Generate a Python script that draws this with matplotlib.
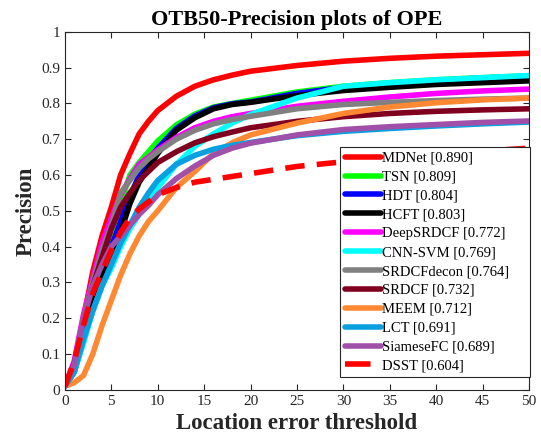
import matplotlib
matplotlib.use("Agg")
import matplotlib.pyplot as plt
from matplotlib.lines import Line2D

plt.rcParams['font.family'] = ['Liberation Serif', 'DejaVu Serif']

thresholds = [0, 1, 2, 3, 4, 5, 6, 7, 8, 9, 10, 12, 14, 16, 18, 20, 25, 30, 35, 40, 45, 50]

trackers = ['MDNet', 'TSN', 'HDT', 'HCFT', 'DeepSRDCF', 'CNN-SVM',
            'SRDCFdecon', 'SRDCF', 'MEEM', 'LCT', 'SiameseFC', 'DSST']
scores = [0.890, 0.809, 0.804, 0.803, 0.772, 0.769, 0.764, 0.732, 0.712, 0.691, 0.689, 0.604]

mdnet = [0.01, 0.07, 0.20, 0.33, 0.43, 0.51, 0.60, 0.66, 0.715, 0.75, 0.78, 0.82, 0.848, 0.866, 0.879, 0.89, 0.906, 0.918, 0.926, 0.932, 0.936, 0.94]
tsn = [0.01, 0.06, 0.17, 0.27, 0.35, 0.43, 0.52, 0.60, 0.635, 0.665, 0.695, 0.74, 0.77, 0.79, 0.80, 0.809, 0.832, 0.848, 0.858, 0.866, 0.872, 0.877]
hdt = [0.01, 0.05, 0.15, 0.25, 0.33, 0.40, 0.47, 0.54, 0.60, 0.64, 0.675, 0.73, 0.765, 0.788, 0.799, 0.804, 0.828, 0.845, 0.856, 0.864, 0.871, 0.876]
hcft = [0.01, 0.05, 0.14, 0.24, 0.32, 0.38, 0.44, 0.52, 0.58, 0.62, 0.66, 0.725, 0.76, 0.785, 0.797, 0.803, 0.822, 0.836, 0.845, 0.853, 0.858, 0.863]
deepsrdcf = [0.01, 0.08, 0.21, 0.31, 0.41, 0.48, 0.545, 0.59, 0.63, 0.65, 0.67, 0.705, 0.732, 0.75, 0.763, 0.772, 0.792, 0.806, 0.818, 0.828, 0.835, 0.84]
cnnsvm = [0.01, 0.05, 0.13, 0.22, 0.29, 0.34, 0.40, 0.45, 0.49, 0.53, 0.565, 0.63, 0.68, 0.715, 0.745, 0.769, 0.815, 0.848, 0.858, 0.866, 0.872, 0.878]
srdcfdecon = [0.01, 0.07, 0.20, 0.30, 0.39, 0.46, 0.55, 0.585, 0.62, 0.645, 0.665, 0.70, 0.725, 0.743, 0.755, 0.764, 0.785, 0.797, 0.803, 0.808, 0.812, 0.815]
srdcf = [0.01, 0.07, 0.19, 0.29, 0.37, 0.45, 0.51, 0.55, 0.585, 0.61, 0.635, 0.665, 0.69, 0.707, 0.72, 0.732, 0.75, 0.763, 0.772, 0.778, 0.782, 0.785]
meem = [0.01, 0.02, 0.04, 0.10, 0.18, 0.25, 0.32, 0.38, 0.43, 0.47, 0.50, 0.565, 0.61, 0.66, 0.69, 0.712, 0.745, 0.772, 0.79, 0.802, 0.81, 0.815]
lct = [0.01, 0.05, 0.14, 0.22, 0.29, 0.35, 0.41, 0.46, 0.51, 0.55, 0.585, 0.63, 0.655, 0.672, 0.683, 0.691, 0.71, 0.722, 0.73, 0.737, 0.743, 0.748]
siamesefc = [0.01, 0.07, 0.20, 0.29, 0.35, 0.40, 0.43, 0.46, 0.49, 0.515, 0.545, 0.59, 0.625, 0.655, 0.675, 0.689, 0.712, 0.727, 0.735, 0.741, 0.747, 0.751]
dsst = [0.01, 0.08, 0.18, 0.27, 0.33, 0.39, 0.44, 0.48, 0.505, 0.525, 0.545, 0.565, 0.58, 0.588, 0.596, 0.604, 0.624, 0.637, 0.648, 0.658, 0.667, 0.675]

curves = [mdnet, tsn, hdt, hcft, deepsrdcf, cnnsvm, srdcfdecon, srdcf, meem, lct, siamesefc, dsst]
colors = ['#ff0000', '#00ff00', '#0000ff', '#000000', '#ff00ff', '#00ffff',
          '#808080', '#800020', '#ff8833', '#0aa0e0', '#a050a8', '#ff0000']

fig = plt.figure(figsize=(5.41, 4.42), dpi=100)
ax = fig.add_axes([0.120, 0.118, 0.858, 0.810])

handles = []
labels = []
for name, score, ys, c in zip(trackers, scores, curves, colors):
    if name == 'DSST':
        ax.plot(thresholds, ys, color=c, lw=4, ls='--', dashes=(3.5, 2.2))
        h = Line2D([], [], color=c, lw=4, ls='--', dashes=(4.6, 2.0))
    else:
        h, = ax.plot(thresholds, ys, color=c, lw=4, solid_capstyle='round')
    handles.append(h)
    labels.append('%s [%.3f]' % (name, score))

ax.set_xlim(0, 50)
ax.set_ylim(0, 1)
ax.set_xticks(range(0, 51, 5))
ax.set_yticks([i / 10 for i in range(11)])
ax.set_yticklabels(['0', '0.1', '0.2', '0.3', '0.4', '0.5', '0.6', '0.7', '0.8', '0.9', '1'])
ax.tick_params(direction='in', top=True, right=True, labelsize=11, colors='#262626',
               length=4, width=0.8)
for s in ax.spines.values():
    s.set_color('#262626')
    s.set_linewidth(0.8)

ax.set_title('OTB50-Precision plots of OPE', fontsize=16, fontweight='bold', pad=5)
ax.set_xlabel('Location error threshold', fontsize=16.5, fontweight='bold', color='#262626', labelpad=4)
ax.set_ylabel('Precision', fontsize=16.5, fontweight='bold', color='#262626', labelpad=3)

# matlab-style legend box, wider than its text
leg = ax.legend(handles, labels, loc='lower left', mode='expand',
                bbox_to_anchor=(0.593, 0.036, 0.409, 0.642), fontsize=10.5,
                handlelength=2.5, handletextpad=0.1, labelspacing=0.39,
                borderpad=0.3, borderaxespad=0, fancybox=False, framealpha=1)
leg.get_frame().set_edgecolor('#262626')
leg.get_frame().set_linewidth(0.8)

fig.savefig('out.png', dpi=100)
